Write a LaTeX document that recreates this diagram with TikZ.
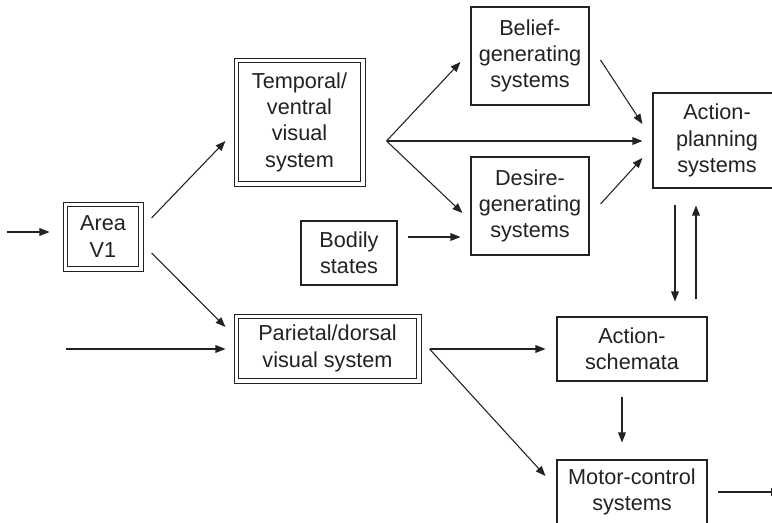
\documentclass[tikz,border=0pt]{standalone}
\usepackage{fontspec}
\setmainfont{Liberation Sans}
\usetikzlibrary{arrows.meta,calc}
\definecolor{ink}{HTML}{222222}
\begin{document}
\begin{tikzpicture}[x=0.75pt,y=-0.75pt,
  txt/.style={font=\fontsize{16.25}{19.75}\selectfont,text=ink,align=center,inner sep=0pt},
  box/.style={txt,draw=ink,line width=0.8pt},
  dbox/.style={txt,draw=ink,line width=0.75pt,double,double distance=2.5pt},
  arr/.style={draw=ink,line width=0.8pt,-{Triangle[length=7.5pt,width=5.75pt]}}]
\useasboundingbox (0,0) rectangle (772,522);
\clip (0,0) rectangle (772,522);
\fill[white] (0,0) rectangle (772,522);
% nodes
\node[dbox,minimum width=56.75pt,minimum height=48.5pt] (v1) at (103,236.5) {Area\\V1};
\node[dbox,minimum width=95pt,minimum height=92.75pt] (temp) at (299.5,122) {Temporal/\\ventral\\visual\\system};
\node[dbox,minimum width=137pt,minimum height=48.5pt] (par) at (327.5,348.5) {Parietal/dorsal\\visual system};
\node[box,minimum width=88.5pt,minimum height=73.5pt] (belief) at (530,56) {Belief-\\generating\\systems};
\node[box,minimum width=88.5pt,minimum height=73.5pt] (desire) at (530,206) {Desire-\\generating\\systems};
\node[box,minimum width=72pt,minimum height=48pt] (bodily) at (349,253) {Bodily\\states};
\node[box,minimum width=96pt,minimum height=71.25pt] (ap) at (717,140.5) {Action-\\planning\\systems};
\node[box,minimum width=112.5pt,minimum height=48pt] (schem) at (632,349) {Action-\\schemata};
\node[box,minimum width=112.5pt,minimum height=48pt] (motor) at (632,492) {Motor-control\\systems};
% free ends and fan points
\coordinate (in1) at (7,232);
\coordinate (in2) at (66,349);
\coordinate (fan1) at ([shift={(23.2,19)}]temp.east);
\coordinate (fan2) at ([shift={(10.2,0.5)}]par.east);
\coordinate (out) at (781,492);
% connectors
\draw[arr] (in1) -- ([shift={(-15.2,-4.5)}]v1.west);
\draw[arr] ([shift={(10.2,-18.5)}]v1.east) -- ([shift={(-10.2,19)}]temp.west);
\draw[arr] ([shift={(10.2,16.5)}]v1.east) -- ([shift={(-10.2,-21.5)}]par.west);
\draw[arr] (in2) -- ([shift={(-10.2,0.5)}]par.west);
\draw[arr] (fan1) -- ([shift={(-10,6)}]belief.west);
\draw[arr] (fan1) -- ([shift={(-10,0.5)}]ap.west);
\draw[arr] (fan1) -- ([shift={(-8,7)}]desire.west);
\draw[arr] ([shift={(11,4)}]belief.east) -- ([shift={(-10,-16.5)}]ap.west);
\draw[arr] ([shift={(11,-2)}]desire.east) -- ([shift={(-10,17.5)}]ap.west);
\draw[arr] ([shift={(10,-16)}]bodily.east) -- ([shift={(-10,31)}]desire.west);
\draw[arr] ([shift={(-42,16)}]ap.south) -- ([shift={(43,-15)}]schem.north);
\draw[arr] ([shift={(64,-17)}]schem.north) -- ([shift={(-21,17)}]ap.south);
\draw[arr] (fan2) -- ([shift={(-11,0)}]schem.west);
\draw[arr] (fan2) -- ([shift={(-11,-16)}]motor.west);
\draw[arr] ([shift={(-10,15)}]schem.south) -- ([shift={(-10,-17)}]motor.north);
\draw[arr] ([shift={(10,0)}]motor.east) -- (out);
\end{tikzpicture}
\end{document}
